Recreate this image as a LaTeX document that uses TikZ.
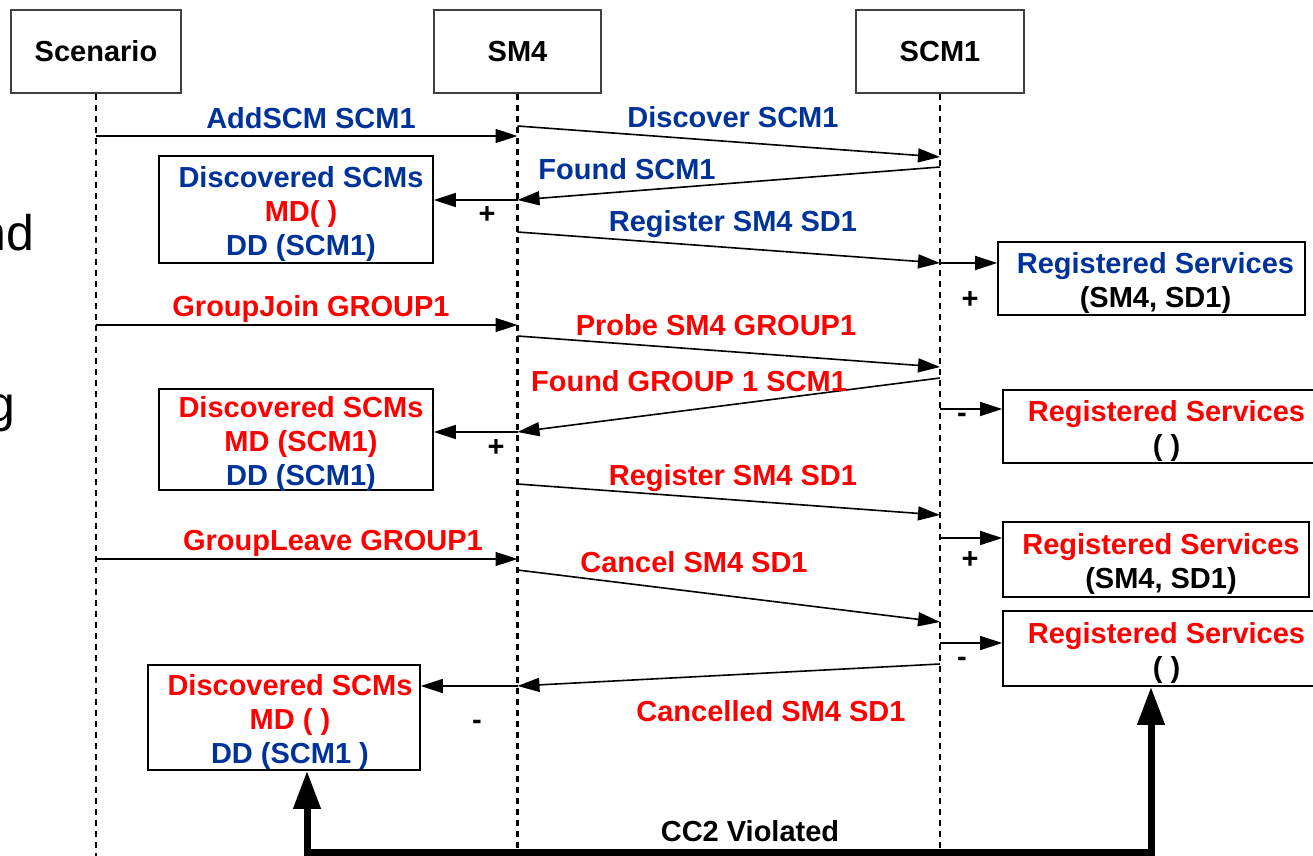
\documentclass[tikz,border=0pt]{standalone}
\usepackage{fontspec}
\setmainfont{Liberation Sans}
\usetikzlibrary{arrows.meta}
\definecolor{dblue}{RGB}{0,51,153}
\definecolor{mred}{RGB}{255,0,0}
\begin{document}
\begin{tikzpicture}[x=0.5pt,y=-0.5pt,
  every node/.style={font=\fontsize{14.5}{16.9}\selectfont\bfseries, inner sep=0pt},
  head/.style={draw=black!75, line width=0.8pt, minimum height=41.5pt},
  lifeline/.style={line width=1.2pt, dash pattern=on 3pt off 2.5pt},
  msg/.style={line width=0.8pt, -{Triangle[length=11pt,width=7pt]}},
  state/.style={draw, line width=0.8pt},
  txt/.style={align=center, yshift=-2.2pt},
  lbl/.style={anchor=base},
  sign/.style={font=\fontsize{14.5}{16}\selectfont\bfseries},
  cc/.style={line width=3.5pt, {Triangle[length=19pt,width=13pt]}-{Triangle[length=19pt,width=13pt]}}
]
\useasboundingbox (0,0) rectangle (1313,856);

% cut-off text at the left edge
\node[anchor=base east, font=\fontsize{25}{28}\selectfont] (nd) at (35,250) {nd};
\node[anchor=base east, font=\fontsize{25}{28}\selectfont] (gg) at (16,421) {g};

% lifeline heads
\node[head, minimum width=85pt] (scen) at (96,51.5) {Scenario};
\node[head, minimum width=83.5pt] (sm4) at (517.5,51.5) {SM4};
\node[head, minimum width=84pt] (scm1) at (940,51.5) {SCM1};

\coordinate (scenEnd) at (96,860);
\coordinate (sm4End) at (517.5,860);
\coordinate (scm1End) at (940,860);
\draw[lifeline] (scen.south) -- (scenEnd);
\draw[lifeline] (sm4.south) -- (sm4End);
\draw[lifeline] (scm1.south) -- (scm1End);

% state boxes
\node[state, minimum width=137pt, minimum height=53.5pt,
  label={[txt, xshift=2.5pt]center:{\textcolor{dblue}{Discovered SCMs}\\\textcolor{mred}{MD( )}\\\textcolor{dblue}{DD (SCM1)}}}] (d1) at (296,209.5) {};
\node[state, minimum width=137pt, minimum height=50.5pt,
  label={[txt, xshift=2.5pt]center:{\textcolor{mred}{Discovered SCMs}\\\textcolor{mred}{MD (SCM1)}\\\textcolor{dblue}{DD (SCM1)}}}] (d2) at (296,439.5) {};
\node[state, minimum width=136pt, minimum height=52.5pt,
  label={[txt, xshift=3pt]center:{\textcolor{mred}{Discovered SCMs}\\\textcolor{mred}{MD ( )}\\\textcolor{dblue}{DD (SCM1 )}}}] (d3) at (284,717.5) {};

\node[state, minimum width=153.5pt, minimum height=36.5pt,
  label={[txt, xshift=2pt]center:{\textcolor{dblue}{Registered Services}\\(SM4, SD1)}}] (r1) at (1151.5,278.5) {};
\node[state, minimum width=163.5pt, minimum height=36.5pt,
  label={[txt]center:{\textcolor{mred}{Registered Services}\\( )}}] (r2) at (1166.5,426.5) {};
\node[state, minimum width=153pt, minimum height=37.5pt,
  label={[txt, xshift=2.5pt]center:{\textcolor{mred}{Registered Services}\\(SM4, SD1)}}] (r3) at (1156,559.5) {};
\node[state, minimum width=163.5pt, minimum height=37.5pt,
  label={[txt]center:{\textcolor{mred}{Registered Services}\\( )}}] (r4) at (1166.5,648.5) {};

% message points
\coordinate (a1) at (96,136);    \coordinate (a2) at (517.5,136);
\coordinate (b1) at (517.5,126); \coordinate (b2) at (940,157);
\coordinate (c1) at (940,167);   \coordinate (c2) at (517.5,200);
\coordinate (e1) at (517.5,232); \coordinate (e2) at (940,263);
\coordinate (f1) at (96,325);    \coordinate (f2) at (517.5,325);
\coordinate (g1) at (517.5,336); \coordinate (g2) at (940,367);
\coordinate (h1) at (940,378);   \coordinate (h2) at (517.5,432);
\coordinate (i1) at (940,409);
\coordinate (j1) at (517.5,484); \coordinate (j2) at (940,515);
\coordinate (k1) at (940,538);
\coordinate (l1) at (96,559);    \coordinate (l2) at (517.5,559);
\coordinate (m1) at (517.5,570); \coordinate (m2) at (940,622);
\coordinate (n1) at (940,643);
\coordinate (o1) at (940,664);   \coordinate (o2) at (517.5,686);

% messages
\draw[msg] (a1) -- (a2);
\draw[msg] (b1) -- (b2);
\draw[msg] (c1) -- (c2);
\draw[msg] (c2) -- (c2 -| d1.east);
\draw[msg] (e1) -- (e2);
\draw[msg] (e2) -- (e2 -| r1.west);
\draw[msg] (f1) -- (f2);
\draw[msg] (g1) -- (g2);
\draw[msg] (h1) -- (h2);
\draw[msg] (h2) -- (h2 -| d2.east);
\draw[msg] (i1) -- (i1 -| r2.west);
\draw[msg] (j1) -- (j2);
\draw[msg] (k1) -- (k1 -| r3.west);
\draw[msg] (l1) -- (l2);
\draw[msg] (m1) -- (m2);
\draw[msg] (n1) -- (n1 -| r4.west);
\draw[msg] (o1) -- (o2);
\draw[msg] (o2) -- (o2 -| d3.east);

% labels
\node[lbl, text=dblue] (t1) at (311,129) {AddSCM SCM1};
\node[lbl, text=dblue] (t2) at (733,128) {Discover SCM1};
\node[lbl, text=dblue] (t3) at (627,180) {Found SCM1};
\node[lbl, text=dblue] (t4) at (733,232) {Register SM4 SD1};
\node[lbl, text=mred] (t5) at (311,316) {GroupJoin GROUP1};
\node[lbl, text=mred] (t6) at (716,335) {Probe SM4 GROUP1};
\node[lbl, text=mred] (t7) at (689,391) {Found GROUP 1 SCM1};
\node[lbl, text=mred] (t8) at (733,485) {Register SM4 SD1};
\node[lbl, text=mred] (t9) at (333,550) {GroupLeave GROUP1};
\node[lbl, text=mred] (t10) at (694,572) {Cancel SM4 SD1};
\node[lbl, text=mred] (t11) at (771,721) {Cancelled SM4 SD1};

% signs
\node[sign] (s1) at (487,215) {+};
\node[sign] (s2) at (970,300) {+};
\node[sign] (s3) at (496,448) {+};
\node[sign] (s4) at (962,418) {-};
\node[sign] (s5) at (970,560) {+};
\node[sign] (s6) at (962,662) {-};
\node[sign] (s7) at (477,725) {-};

% CC2 violated
\coordinate (ccL) at (307,852);
\coordinate (ccR) at (1151,852);
\draw[cc] (ccL |- d3.south) -- (ccL) -- (ccR) -- (ccR |- r4.south);
\node[lbl] (cc2) at (750,841) {CC2 Violated};
\end{tikzpicture}
\end{document}
